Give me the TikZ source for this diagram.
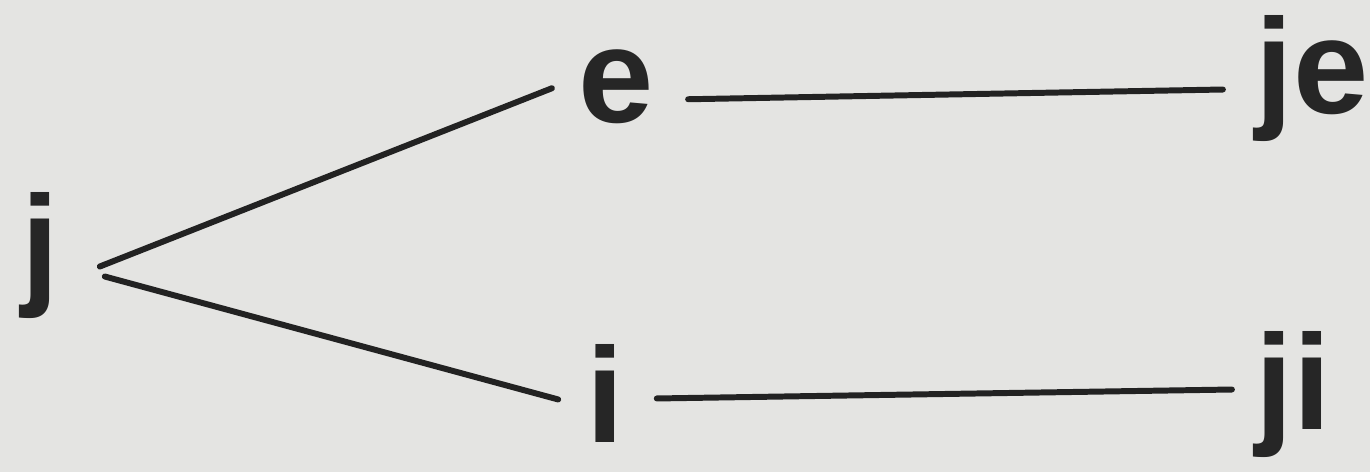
\documentclass[tikz,border=0pt]{standalone}
\usepackage{fontspec}
\setmainfont{Liberation Sans}
\usepackage{xcolor}
\usepackage{tikz}
\usetikzlibrary{calc}

\definecolor{paper}{RGB}{228,228,226}
\definecolor{ink}{RGB}{38,38,38}

\begin{document}
\begin{tikzpicture}[
  x=0.02cm,y=0.02cm,
  word/.style={anchor=base,inner sep=0pt,outer sep=0pt,text=ink,
               font=\fontsize{77}{80}\selectfont\bfseries},
  ln/.style={draw=ink!90!black,line width=3.4pt,line cap=round}
]

%%%%%%%%%%%%%%%%%%%%%% paper %%%%%%%%%%%%%%%%%%%%%%%%%%%%%%%%%%%%%%%%%%%%%%%
\fill[paper] (0,0) rectangle (1370,472);
\useasboundingbox (0,0) rectangle (1370,472);

%%%%%%%%%%%%%%%%%%%%%% letters %%%%%%%%%%%%%%%%%%%%%%%%%%%%%%%%%%%%%%%%%%%%%
\node[word] (j)  at (  40,181) {j};
\node[word] (e)  at ( 616,349) {e};
\node[word] (i)  at ( 605, 29) {i};
\node[word] (je) at (1312,358) {je};
\node[word] (ji) at (1293, 42) {ji};

%%%%%%%%%%%%%%%%%%%%%% strokes %%%%%%%%%%%%%%%%%%%%%%%%%%%%%%%%%%%%%%%%%%%%%
\draw[ln] ([shift={(41,-10.5)}]j.east) -- ([shift={(-26.5,-1)}]e.west);
\draw[ln] ([shift={(46,-20.5)}]j.east) -- ([shift={(-28,-5.5)}]i.west);
\draw[ln] ([shift={(34.5,-12)}]e.east) -- ([shift={(-32.7,-10.5)}]je.west);
\draw[ln] ([shift={(33,-4.5)}]i.east)  -- ([shift={(-23.5,5.5)}]ji.west);
\end{tikzpicture}
\end{document}
